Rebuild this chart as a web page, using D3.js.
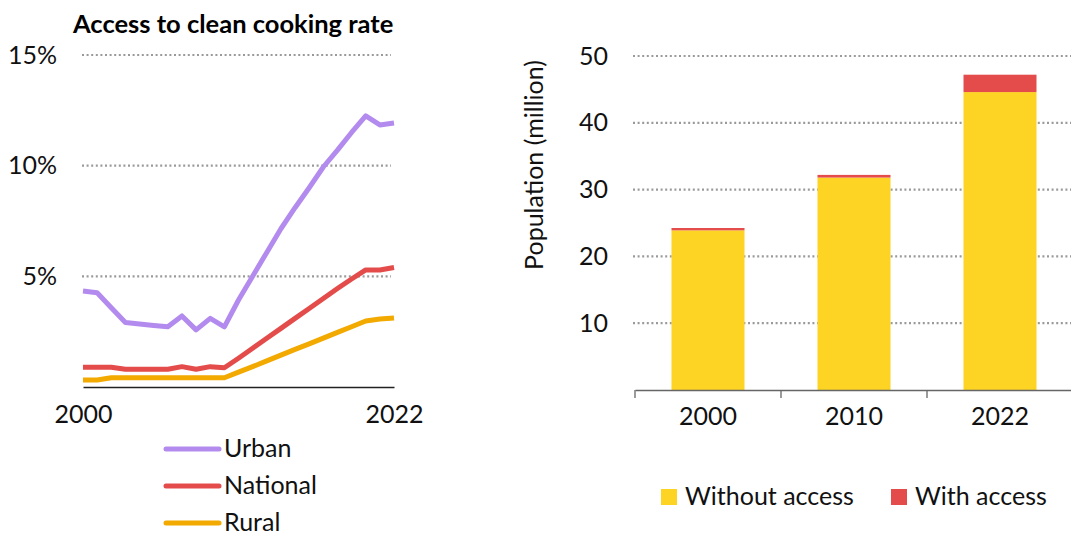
<!DOCTYPE html>
<html>
<head>
<meta charset="utf-8">
<script src="https://cdn.jsdelivr.net/npm/d3@7"></script>
<style>
  html, body { margin: 0; padding: 0; background: #fff; }
  svg { display: block; font-family: Lato, "Open Sans", sans-serif; }
  .tick text { fill: #111; }
</style>
</head>
<body>
<svg id="chart" width="1071" height="538"></svg>
<script>
// ---- Data ----
const years = [2000, 2001, 2002, 2003, 2004, 2005, 2006, 2007, 2008, 2009, 2010,
               2011, 2012, 2013, 2014, 2015, 2016, 2017, 2018, 2019, 2020, 2021, 2022];
const urban = [4.34, 4.26, 3.58, 2.91, 2.85, 2.78, 2.72, 3.21, 2.58, 3.10, 2.72,
               3.93, 5.00, 6.08, 7.15, 8.10, 9.00, 9.94, 10.70, 11.50, 12.25, 11.84, 11.93];
const national = [0.89, 0.89, 0.89, 0.80, 0.80, 0.80, 0.80, 0.92, 0.80, 0.92, 0.87,
                  1.30, 1.75, 2.20, 2.65, 3.10, 3.55, 4.00, 4.45, 4.88, 5.29, 5.29, 5.40];
const rural = [0.32, 0.32, 0.42, 0.42, 0.42, 0.42, 0.42, 0.42, 0.42, 0.42, 0.42,
               0.67, 0.92, 1.18, 1.44, 1.70, 1.95, 2.21, 2.47, 2.72, 2.98, 3.07, 3.12];
const lineSeries = ["Urban", "National", "Rural"];
const rateTicks = [5, 10, 15];
const yearTicks = [2000, 2022];

const barCategories = ["2000", "2010", "2022"];
const withoutAccess = [23.9, 31.8, 44.6];
const withAccess = [0.35, 0.4, 2.6];
const barSeries = ["Without access", "With access"];
const popTicks = [10, 20, 30, 40, 50];

// ---- Styles ----
const lineColors = { Urban: "#b38bee", National: "#e34c4a", Rural: "#f2a900" };
const barColors = { "Without access": "#fdd324", "With access": "#e34c4a" };
const gridColor = "#9a9a9a";
const fs = 25;

const svg = d3.select("#chart");

// ================= Left chart =================
const xL = d3.scaleLinear().domain([2000, 2022]).range([83, 394]);
const yL = d3.scaleLinear().domain([0, 15]).range([387, 55]);
const left = svg.append("g");

// Title
left.append("text")
  .attr("x", 73).attr("y", 33)
  .attr("font-weight", "bold").attr("font-size", 25.5)
  .attr("fill", "#000")
  .text("Access to clean cooking rate");

// Gridlines
left.append("g").selectAll("line").data(rateTicks).join("line")
  .attr("x1", 82).attr("x2", 391)
  .attr("y1", d => yL(d)).attr("y2", d => yL(d))
  .attr("stroke", gridColor).attr("stroke-width", 2.2)
  .attr("stroke-dasharray", "2,2.6");

// Y axis labels
const yAxisL = left.append("g").attr("transform", "translate(57,0)")
  .call(d3.axisLeft(yL).tickValues(rateTicks).tickFormat(d => d + "%").tickSize(0).tickPadding(0));
yAxisL.select(".domain").remove();
yAxisL.selectAll("text").attr("font-size", fs).attr("font-family", "Lato, sans-serif");

// X axis
const xAxisL = left.append("g").attr("transform", `translate(0,${yL(0)})`)
  .call(d3.axisBottom(xL).tickValues(yearTicks).tickFormat(d3.format("d")).tickSize(0).tickPadding(18));
xAxisL.select(".domain").attr("stroke", "#222").attr("stroke-width", 1.3);
xAxisL.selectAll("text").attr("font-size", fs).attr("font-family", "Lato, sans-serif");

// Lines
const seriesData = { Urban: urban, National: national, Rural: rural };
const lineGen = d3.line().x((d, i) => xL(years[i])).y(d => yL(d));
["Rural", "National", "Urban"].forEach(s => {
  left.append("path")
    .datum(seriesData[s])
    .attr("d", lineGen)
    .attr("fill", "none")
    .attr("stroke", lineColors[s])
    .attr("stroke-width", 5)
    .attr("stroke-linejoin", "round");
});

// Legend (left)
const legL = left.append("g");
lineSeries.forEach((s, i) => {
  const y = 449 + i * 37;
  legL.append("line")
    .attr("x1", 166).attr("x2", 219).attr("y1", y).attr("y2", y)
    .attr("stroke", lineColors[s]).attr("stroke-width", 5).attr("stroke-linecap", "round");
  legL.append("text")
    .attr("x", 224).attr("y", y + 8)
    .attr("font-size", fs).attr("fill", "#111")
    .text(s);
});

// ================= Right chart =================
const xR = d3.scaleBand().domain(barCategories).range([635, 1073]).paddingInner(0.5).paddingOuter(0.25);
const yR = d3.scaleLinear().domain([0, 50]).range([390, 56]);
const right = svg.append("g");

// Gridlines
right.append("g").selectAll("line").data(popTicks).join("line")
  .attr("x1", 633).attr("x2", 1071)
  .attr("y1", d => yR(d)).attr("y2", d => yR(d))
  .attr("stroke", gridColor).attr("stroke-width", 2.2)
  .attr("stroke-dasharray", "2,2.6");

// Y axis labels
const yAxisR = right.append("g").attr("transform", "translate(608,0)")
  .call(d3.axisLeft(yR).tickValues(popTicks).tickSize(0).tickPadding(0));
yAxisR.select(".domain").remove();
yAxisR.selectAll("text").attr("font-size", fs).attr("font-family", "Lato, sans-serif");

// Y axis title
right.append("text")
  .attr("transform", "translate(543,165) rotate(-90)")
  .attr("text-anchor", "middle")
  .attr("font-size", fs).attr("fill", "#111")
  .text("Population (million)");

// Stacked bars
const barRows = barCategories.map((c, i) => ({ cat: c, "Without access": withoutAccess[i], "With access": withAccess[i] }));
const stacked = d3.stack().keys(barSeries)(barRows);
right.append("g").selectAll("g").data(stacked).join("g")
  .attr("fill", d => barColors[d.key])
  .selectAll("rect").data(d => d).join("rect")
  .attr("x", d => xR(d.data.cat))
  .attr("width", xR.bandwidth())
  .attr("y", d => yR(d[1]))
  .attr("height", d => yR(d[0]) - yR(d[1]));

// X axis
const xAxisR = right.append("g").attr("transform", `translate(0,${yR(0)})`)
  .call(d3.axisBottom(xR).tickSize(0).tickPadding(17));
xAxisR.select(".domain").attr("stroke", "#666").attr("stroke-width", 1.3);
xAxisR.selectAll("text").attr("font-size", fs).attr("font-family", "Lato, sans-serif");
const gap = (xR.step() - xR.bandwidth()) / 2;
const boundaries = barCategories.map(c => xR(c) - gap).concat([xR(barCategories[barCategories.length - 1]) + xR.bandwidth() + gap]);
right.append("g").selectAll("line").data(boundaries).join("line")
  .attr("x1", d => d).attr("x2", d => d)
  .attr("y1", yR(0)).attr("y2", yR(0) + 8)
  .attr("stroke", "#666").attr("stroke-width", 1.3);

// Legend (right)
const legR = right.append("g");
const legX = [661, 891];
barSeries.forEach((s, i) => {
  legR.append("rect")
    .attr("x", legX[i]).attr("y", 489).attr("width", 16).attr("height", 16)
    .attr("fill", barColors[s]);
  legR.append("text")
    .attr("x", legX[i] + 24).attr("y", 505)
    .attr("font-size", fs).attr("fill", "#111")
    .text(s);
});
</script>
</body>
</html>
